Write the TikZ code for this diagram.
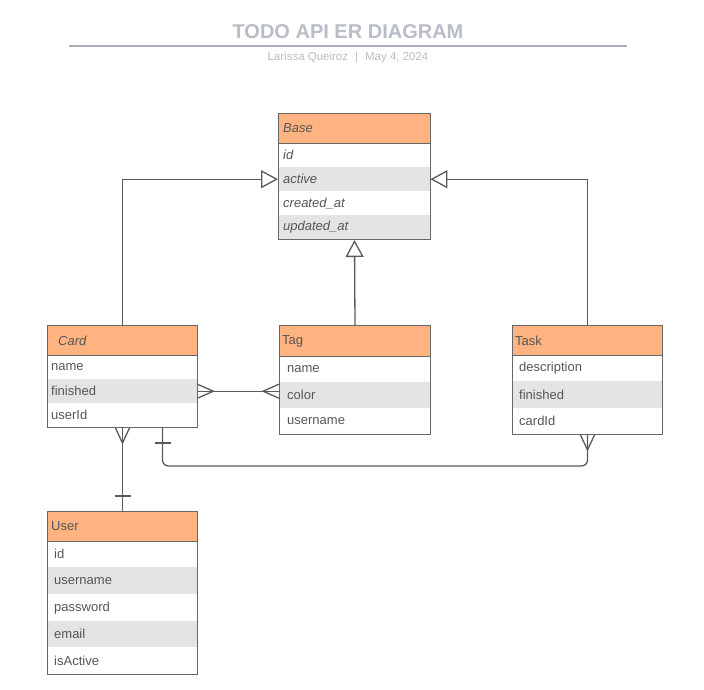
\documentclass[tikz,border=0pt]{standalone}
\usepackage{fontspec}
\setmainfont{Liberation Sans}
\usetikzlibrary{arrows.meta,calc}
\definecolor{hdrc}{RGB}{255,179,128}
\definecolor{rowg}{RGB}{228,228,228}
\definecolor{bordc}{RGB}{102,102,102}
\definecolor{txtc}{RGB}{85,85,85}
\definecolor{linec}{RGB}{90,90,90}
\definecolor{titc}{RGB}{185,189,198}
\definecolor{rulec}{RGB}{170,174,188}
\tikzset{
  tblframe/.style={draw=bordc, line width=1pt, fill=none, inner sep=0pt, anchor=north west},
  hdrbox/.style={fill=hdrc, draw=bordc, line width=1pt, inner sep=0pt, anchor=north west},
  rowbox/.style={inner sep=0pt, anchor=north west, draw=none},
  fld/.style={anchor=west, inner sep=0pt, text=txtc, font=\fontsize{13}{15}\selectfont},
  conn/.style={draw=linec, line width=1.3pt},
  inh/.style={conn, -{Triangle[open, length=17pt, width=18pt, fill=white]}},
}
% #1 name, #2 x1, #3 x2, #4 inset, #5 list n/top/bottom/text/fill
\newcommand\errows[5]{%
  \foreach \n/\a/\b/\t/\f in {#5}{%
    \node[rowbox, fill=\f, minimum width=#3-#2, minimum height=\b-\a] (#1-r\n) at (#2,\a) {};
    \node[fld] (#1-t\n) at ($(#1-r\n.west)+(#4,0)$) {\t};
  }%
}
% #1 name, #2 x1, #3 x2, #4 ytop, #5 ybottom header, #6 text, #7 inset
\newcommand\erhead[7]{%
  \node[hdrbox, minimum width=#3-#2, minimum height=#5-#4] (#1-h) at (#2,#4) {};
  \node[fld] (#1-ht) at ($(#1-h.west)+(#7,0)$) {#6};
}
% #1 name, #2 x1, #3 x2, #4 ytop, #5 ybottom
\newcommand\erframe[5]{%
  \node[tblframe, minimum width=#3-#2, minimum height=#5-#4] (#1) at (#2,#4) {};
}
\begin{document}
\begin{tikzpicture}[x=1pt,y=-1pt]
\useasboundingbox[fill=white] (0,0) rectangle (704,689);

% title
\node[font=\bfseries\fontsize{20}{24}\selectfont, text=titc] (title) at (348,32) {TODO API ER DIAGRAM};
\draw[rulec, line width=1.5pt] (69,46) -- (627,46);
\node[font=\fontsize{11.5}{13}\selectfont, text=titc] (sub) at (348,58) {Larissa Queiroz\hspace{7pt}|\hspace{7pt}May 4, 2024};

% Base
\errows{base}{278}{430}{5}{1/143/167/{\itshape id}/white, 2/167/191/{\itshape active}/rowg, 3/191/215/{\itshape created\_at}/white, 4/215/239/{\itshape updated\_at}/rowg}
\erhead{base}{278}{430}{113}{143}{\itshape Base}{5}
\erframe{base}{278}{430}{113}{239}

% Card
\errows{card}{47}{197}{4}{1/355/379/name/white, 2/379/403/finished/rowg, 3/403/427/userId/white}
\erhead{card}{47}{197}{325}{355}{\itshape Card}{11}
\erframe{card}{47}{197}{325}{427}

% Tag
\errows{tag}{279}{430}{8}{1/356/382/name/white, 2/382/408/color/rowg, 3/408/434/username/white}
\erhead{tag}{279}{430}{325}{356}{Tag}{3}
\erframe{tag}{279}{430}{325}{434}

% Task
\errows{task}{512}{662}{7}{1/355/381/description/white, 2/381/408/finished/rowg, 3/408/434/cardId/white}
\erhead{task}{512}{662}{325}{355}{Task}{3}
\erframe{task}{512}{662}{325}{434}

% User
\errows{user}{47}{197}{7}{1/541/567/id/white, 2/567/594/username/rowg, 3/594/621/password/white, 4/621/647/email/rowg, 5/647/674/isActive/white}
\erhead{user}{47}{197}{511}{541}{User}{4}
\erframe{user}{47}{197}{511}{674}

% inheritance
\draw[inh] (card.north) |- (base-r2.west);
\draw[inh] (task.north) |- (base-r2.east);
\draw[inh] (tag.north) -- (base.south);

% Card -- Tag (many to many)
\coordinate (ct1) at (card-r2.east);
\coordinate (ct2) at (card-r2.east -| tag.west);
\draw[conn] (ct1) -- (ct2);
\draw[conn] ($(ct1)+(0,-7)$) -- ($(ct1)+(16,0)$) -- ($(ct1)+(0,7)$);
\draw[conn] ($(ct2)+(0,-7)$) -- ($(ct2)+(-16,0)$) -- ($(ct2)+(0,7)$);

% Card -- User
\draw[conn] (card.south) -- (user.north);
\draw[conn] ($(card.south)+(-7,0)$) -- ($(card.south)+(0,15)$) -- ($(card.south)+(7,0)$);
\draw[conn] ($(user.north)+(-8,-15)$) -- ($(user.north)+(8,-15)$);

% Card -- Task
\coordinate (c2) at ($(card.south)+(40,0)$);
\coordinate (c3) at ($(task.south)+(0,31)$);
\draw[conn, rounded corners=6pt] (c2) |- (c3) -- (task.south);
\draw[conn] ($(c2)+(-8,15)$) -- ($(c2)+(8,15)$);
\draw[conn] ($(task.south)+(-7,0)$) -- ($(task.south)+(0,15)$) -- ($(task.south)+(7,0)$);
\end{tikzpicture}
\end{document}
